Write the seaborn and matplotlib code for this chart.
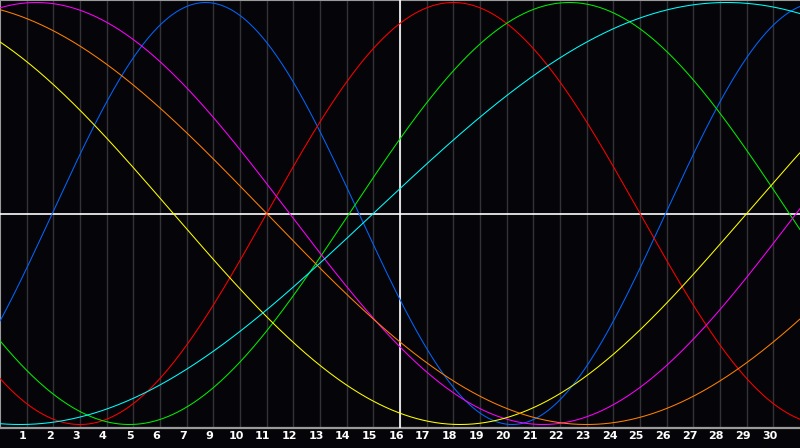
import numpy as np
import pandas as pd
import matplotlib
matplotlib.use("Agg")
import matplotlib.pyplot as plt
import seaborn as sns

# -------------------------
# Chart data
# -------------------------
cycle_names = ["physical", "emotional", "intellectual", "intuitive",
               "aesthetic", "awareness", "spiritual"]
cycle_days = [23, 28, 33, 38, 43, 48, 53]
# day (on the chart axis) where each cycle crosses zero going up
zero_cross = [1.96, 10.0, 13.1, 29.86, 28.0, 34.0, 14.0]
cycle_colors = ["#0066ff", "#ff0000", "#00ee00", "#ff00ff",
                "#ffff00", "#ff8000", "#00ffff"]

day_ticks = list(range(1, 30))
day_labels = [1, 2, 3, 4, 5, 6, 7, 9, 10, 11, 12, 13, 14, 15, 16,
              17, 18, 19, 20, 21, 22, 23, 24, 25, 26, 27, 28, 29, 30]
today = 15

# -------------------------
# Build long-form table for seaborn
# -------------------------
x = np.linspace(0, 30, 901)
rows = []
for name, period, x0 in zip(cycle_names, cycle_days, zero_cross):
    rows.append(pd.DataFrame({"day": x,
                              "value": np.sin(2 * np.pi * (x - x0) / period),
                              "cycle": name}))
df = pd.concat(rows, ignore_index=True)

sns.set_style("dark")
bg = "#050408"
fig = plt.figure(figsize=(8, 4.48), dpi=100, facecolor=bg)
ax = fig.add_axes([0, 20 / 448, 1, 428 / 448])
ax.set_facecolor(bg)

# grid / reference lines
ax.set_xticks(day_ticks)
ax.set_xticklabels([])
ax.grid(axis="x", color="#333236", linewidth=1.0)
ax.grid(axis="y", visible=False)
ax.axvline(today, color="white", linewidth=1.2, zorder=3)
ax.axhline(0, color="white", linewidth=1.2, zorder=3)

sns.lineplot(data=df, x="day", y="value", hue="cycle",
             palette=dict(zip(cycle_names, cycle_colors)),
             linewidth=0.75, legend=False, ax=ax, zorder=4)

ax.set_xlim(0, 30)
ax.set_ylim(-(428 - 213.5) / 211, 213.5 / 211)
ax.set_yticks([])
ax.set_xlabel("")
ax.set_ylabel("")

# day labels sit just left of each grid line
ax.set_xticks([t - 0.14 for t in day_ticks], minor=True)
ax.set_xticklabels([str(d) for d in day_labels], minor=True,
                   color="white", fontsize=8, fontweight="bold",
                   family="DejaVu Sans")
ax.tick_params(axis="x", which="both", length=0, pad=2.5)

for side in ["left", "top", "bottom"]:
    ax.spines[side].set_visible(True)
    ax.spines[side].set_color("#9a9a9a")
ax.spines["bottom"].set_linewidth(1.6)
ax.spines["right"].set_visible(False)

fig.savefig("out.png", dpi=100, facecolor=bg)
